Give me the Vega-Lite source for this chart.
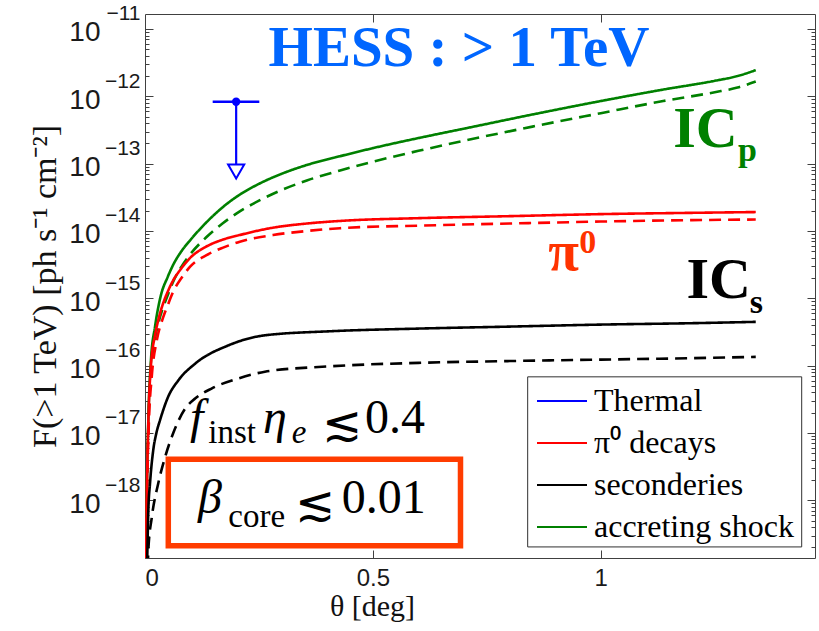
{
  "$schema": "https://vega.github.io/schema/vega-lite/v6.json",
  "width": 670,
  "height": 544,
  "autosize": {"type": "none"},
  "padding": {"left": 145, "top": 14, "right": 4, "bottom": 73},
  "background": "white",
  "config": {
    "view": {"stroke": "#404040", "strokeWidth": 1},
    "axis": {"domain": false, "grid": false}
  },
  "datasets": {
    "curves": [
      {"c": "accreting shock", "d": "solid", "t": 0.0022, "f": 1e-19},
      {"c": "accreting shock", "d": "solid", "t": 0.004, "f": 1.26e-18},
      {"c": "accreting shock", "d": "solid", "t": 0.0073, "f": 1.58e-17},
      {"c": "accreting shock", "d": "solid", "t": 0.013, "f": 1.2e-16},
      {"c": "accreting shock", "d": "solid", "t": 0.022, "f": 3.8e-16},
      {"c": "accreting shock", "d": "solid", "t": 0.034, "f": 1.05e-15},
      {"c": "accreting shock", "d": "solid", "t": 0.05, "f": 2.09e-15},
      {"c": "accreting shock", "d": "solid", "t": 0.062, "f": 3.16e-15},
      {"c": "accreting shock", "d": "solid", "t": 0.08, "f": 5.01e-15},
      {"c": "accreting shock", "d": "solid", "t": 0.1, "f": 7.41e-15},
      {"c": "accreting shock", "d": "solid", "t": 0.135, "f": 1.35e-14},
      {"c": "accreting shock", "d": "solid", "t": 0.17, "f": 2.24e-14},
      {"c": "accreting shock", "d": "solid", "t": 0.208, "f": 3.47e-14},
      {"c": "accreting shock", "d": "solid", "t": 0.25, "f": 5.01e-14},
      {"c": "accreting shock", "d": "solid", "t": 0.3, "f": 7.08e-14},
      {"c": "accreting shock", "d": "solid", "t": 0.355, "f": 9.55e-14},
      {"c": "accreting shock", "d": "solid", "t": 0.428, "f": 1.29e-13},
      {"c": "accreting shock", "d": "solid", "t": 0.5, "f": 1.7e-13},
      {"c": "accreting shock", "d": "solid", "t": 0.6, "f": 2.4e-13},
      {"c": "accreting shock", "d": "solid", "t": 0.7, "f": 3.31e-13},
      {"c": "accreting shock", "d": "solid", "t": 0.85, "f": 5.37e-13},
      {"c": "accreting shock", "d": "solid", "t": 1.0, "f": 8.51e-13},
      {"c": "accreting shock", "d": "solid", "t": 1.137, "f": 1.26e-12},
      {"c": "accreting shock", "d": "solid", "t": 1.25, "f": 1.7e-12},
      {"c": "accreting shock", "d": "solid", "t": 1.3, "f": 2.0e-12},
      {"c": "accreting shock", "d": "solid", "t": 1.34, "f": 2.45e-12},
      {"c": "accreting shock", "d": "dashed", "t": 0.0026, "f": 1e-19},
      {"c": "accreting shock", "d": "dashed", "t": 0.004, "f": 1.0e-18},
      {"c": "accreting shock", "d": "dashed", "t": 0.0073, "f": 1.26e-17},
      {"c": "accreting shock", "d": "dashed", "t": 0.013, "f": 7.94e-17},
      {"c": "accreting shock", "d": "dashed", "t": 0.022, "f": 2.51e-16},
      {"c": "accreting shock", "d": "dashed", "t": 0.03, "f": 4.47e-16},
      {"c": "accreting shock", "d": "dashed", "t": 0.04, "f": 7.41e-16},
      {"c": "accreting shock", "d": "dashed", "t": 0.05, "f": 1.12e-15},
      {"c": "accreting shock", "d": "dashed", "t": 0.062, "f": 1.78e-15},
      {"c": "accreting shock", "d": "dashed", "t": 0.08, "f": 2.95e-15},
      {"c": "accreting shock", "d": "dashed", "t": 0.1, "f": 4.57e-15},
      {"c": "accreting shock", "d": "dashed", "t": 0.135, "f": 8.13e-15},
      {"c": "accreting shock", "d": "dashed", "t": 0.17, "f": 1.29e-14},
      {"c": "accreting shock", "d": "dashed", "t": 0.208, "f": 1.95e-14},
      {"c": "accreting shock", "d": "dashed", "t": 0.25, "f": 2.82e-14},
      {"c": "accreting shock", "d": "dashed", "t": 0.3, "f": 4.07e-14},
      {"c": "accreting shock", "d": "dashed", "t": 0.355, "f": 5.62e-14},
      {"c": "accreting shock", "d": "dashed", "t": 0.428, "f": 7.94e-14},
      {"c": "accreting shock", "d": "dashed", "t": 0.5, "f": 1.07e-13},
      {"c": "accreting shock", "d": "dashed", "t": 0.6, "f": 1.55e-13},
      {"c": "accreting shock", "d": "dashed", "t": 0.7, "f": 2.19e-13},
      {"c": "accreting shock", "d": "dashed", "t": 0.85, "f": 3.55e-13},
      {"c": "accreting shock", "d": "dashed", "t": 1.0, "f": 5.62e-13},
      {"c": "accreting shock", "d": "dashed", "t": 1.137, "f": 8.51e-13},
      {"c": "accreting shock", "d": "dashed", "t": 1.25, "f": 1.15e-12},
      {"c": "accreting shock", "d": "dashed", "t": 1.3, "f": 1.35e-12},
      {"c": "accreting shock", "d": "dashed", "t": 1.34, "f": 1.66e-12},
      {"c": "π⁰ decays", "d": "solid", "t": 0.0022, "f": 1e-19},
      {"c": "π⁰ decays", "d": "solid", "t": 0.004, "f": 1.12e-18},
      {"c": "π⁰ decays", "d": "solid", "t": 0.0073, "f": 1.41e-17},
      {"c": "π⁰ decays", "d": "solid", "t": 0.013, "f": 1.0e-16},
      {"c": "π⁰ decays", "d": "solid", "t": 0.022, "f": 2.82e-16},
      {"c": "π⁰ decays", "d": "solid", "t": 0.03, "f": 5.01e-16},
      {"c": "π⁰ decays", "d": "solid", "t": 0.04, "f": 8.51e-16},
      {"c": "π⁰ decays", "d": "solid", "t": 0.05, "f": 1.26e-15},
      {"c": "π⁰ decays", "d": "solid", "t": 0.062, "f": 1.86e-15},
      {"c": "π⁰ decays", "d": "solid", "t": 0.077, "f": 2.63e-15},
      {"c": "π⁰ decays", "d": "solid", "t": 0.099, "f": 3.98e-15},
      {"c": "π⁰ decays", "d": "solid", "t": 0.135, "f": 5.89e-15},
      {"c": "π⁰ decays", "d": "solid", "t": 0.17, "f": 7.41e-15},
      {"c": "π⁰ decays", "d": "solid", "t": 0.208, "f": 8.71e-15},
      {"c": "π⁰ decays", "d": "solid", "t": 0.281, "f": 1.12e-14},
      {"c": "π⁰ decays", "d": "solid", "t": 0.355, "f": 1.29e-14},
      {"c": "π⁰ decays", "d": "solid", "t": 0.428, "f": 1.41e-14},
      {"c": "π⁰ decays", "d": "solid", "t": 0.6, "f": 1.55e-14},
      {"c": "π⁰ decays", "d": "solid", "t": 0.8, "f": 1.66e-14},
      {"c": "π⁰ decays", "d": "solid", "t": 1.0, "f": 1.78e-14},
      {"c": "π⁰ decays", "d": "solid", "t": 1.2, "f": 1.86e-14},
      {"c": "π⁰ decays", "d": "solid", "t": 1.34, "f": 1.91e-14},
      {"c": "π⁰ decays", "d": "dashed", "t": 0.0026, "f": 1e-19},
      {"c": "π⁰ decays", "d": "dashed", "t": 0.004, "f": 7.94e-19},
      {"c": "π⁰ decays", "d": "dashed", "t": 0.008, "f": 1.12e-17},
      {"c": "π⁰ decays", "d": "dashed", "t": 0.015, "f": 7.08e-17},
      {"c": "π⁰ decays", "d": "dashed", "t": 0.026, "f": 2.4e-16},
      {"c": "π⁰ decays", "d": "dashed", "t": 0.04, "f": 5.25e-16},
      {"c": "π⁰ decays", "d": "dashed", "t": 0.05, "f": 7.94e-16},
      {"c": "π⁰ decays", "d": "dashed", "t": 0.062, "f": 1.26e-15},
      {"c": "π⁰ decays", "d": "dashed", "t": 0.08, "f": 2.0e-15},
      {"c": "π⁰ decays", "d": "dashed", "t": 0.099, "f": 2.95e-15},
      {"c": "π⁰ decays", "d": "dashed", "t": 0.135, "f": 4.37e-15},
      {"c": "π⁰ decays", "d": "dashed", "t": 0.17, "f": 5.62e-15},
      {"c": "π⁰ decays", "d": "dashed", "t": 0.208, "f": 6.92e-15},
      {"c": "π⁰ decays", "d": "dashed", "t": 0.281, "f": 8.71e-15},
      {"c": "π⁰ decays", "d": "dashed", "t": 0.355, "f": 1.0e-14},
      {"c": "π⁰ decays", "d": "dashed", "t": 0.428, "f": 1.1e-14},
      {"c": "π⁰ decays", "d": "dashed", "t": 0.6, "f": 1.2e-14},
      {"c": "π⁰ decays", "d": "dashed", "t": 0.8, "f": 1.29e-14},
      {"c": "π⁰ decays", "d": "dashed", "t": 1.0, "f": 1.38e-14},
      {"c": "π⁰ decays", "d": "dashed", "t": 1.2, "f": 1.45e-14},
      {"c": "π⁰ decays", "d": "dashed", "t": 1.34, "f": 1.48e-14},
      {"c": "seconderies", "d": "solid", "t": 0.0045, "f": 1e-19},
      {"c": "seconderies", "d": "solid", "t": 0.0073, "f": 7.08e-19},
      {"c": "seconderies", "d": "solid", "t": 0.011, "f": 1.78e-18},
      {"c": "seconderies", "d": "solid", "t": 0.018, "f": 5.5e-18},
      {"c": "seconderies", "d": "solid", "t": 0.025, "f": 1.0e-17},
      {"c": "seconderies", "d": "solid", "t": 0.033, "f": 1.55e-17},
      {"c": "seconderies", "d": "solid", "t": 0.051, "f": 3.47e-17},
      {"c": "seconderies", "d": "solid", "t": 0.073, "f": 6.03e-17},
      {"c": "seconderies", "d": "solid", "t": 0.11, "f": 1.07e-16},
      {"c": "seconderies", "d": "solid", "t": 0.183, "f": 2.0e-16},
      {"c": "seconderies", "d": "solid", "t": 0.263, "f": 2.82e-16},
      {"c": "seconderies", "d": "solid", "t": 0.406, "f": 3.24e-16},
      {"c": "seconderies", "d": "solid", "t": 0.6, "f": 3.55e-16},
      {"c": "seconderies", "d": "solid", "t": 0.8, "f": 3.8e-16},
      {"c": "seconderies", "d": "solid", "t": 1.0, "f": 4.07e-16},
      {"c": "seconderies", "d": "solid", "t": 1.2, "f": 4.27e-16},
      {"c": "seconderies", "d": "solid", "t": 1.34, "f": 4.47e-16},
      {"c": "seconderies", "d": "dashed", "t": 0.0062, "f": 1e-19},
      {"c": "seconderies", "d": "dashed", "t": 0.0073, "f": 1.82e-19},
      {"c": "seconderies", "d": "dashed", "t": 0.015, "f": 5.62e-19},
      {"c": "seconderies", "d": "dashed", "t": 0.029, "f": 1.78e-18},
      {"c": "seconderies", "d": "dashed", "t": 0.044, "f": 4.37e-18},
      {"c": "seconderies", "d": "dashed", "t": 0.062, "f": 1.0e-17},
      {"c": "seconderies", "d": "dashed", "t": 0.088, "f": 2.29e-17},
      {"c": "seconderies", "d": "dashed", "t": 0.11, "f": 3.24e-17},
      {"c": "seconderies", "d": "dashed", "t": 0.146, "f": 4.57e-17},
      {"c": "seconderies", "d": "dashed", "t": 0.205, "f": 6.46e-17},
      {"c": "seconderies", "d": "dashed", "t": 0.263, "f": 8.13e-17},
      {"c": "seconderies", "d": "dashed", "t": 0.406, "f": 9.77e-17},
      {"c": "seconderies", "d": "dashed", "t": 0.6, "f": 1.1e-16},
      {"c": "seconderies", "d": "dashed", "t": 0.8, "f": 1.17e-16},
      {"c": "seconderies", "d": "dashed", "t": 1.0, "f": 1.23e-16},
      {"c": "seconderies", "d": "dashed", "t": 1.2, "f": 1.29e-16},
      {"c": "seconderies", "d": "dashed", "t": 1.34, "f": 1.35e-16}
    ],
    "limitBar": [{"t": 0.1485, "t2": 0.2508, "f": 8.32e-13}],
    "limitArrow": [{"t": 0.2, "f": 8.32e-13, "f2": 9.5e-14}],
    "limitPoint": [{"t": 0.2, "f": 8.32e-13}],
    "limitHead": [{"t": 0.2, "f": 7.64e-14}],
    "box": [{"t": 0.0511, "t2": 0.6922, "f": 4.08e-18, "f2": 2.12e-19}],
    "legendBox": [{"t": 0.8396, "t2": 1.4408, "f": 6.82e-17, "f2": 2.03e-19}],
    "title": [{"t": 0.689, "f": 2.85e-12, "s": "HESS : > 1 TeV"}],
    "icpMain": [{"t": 1.159, "f": 1.78e-13, "s": "IC"}],
    "icpSub": [{"t": 1.301, "f": 1.09e-13, "s": "p"}],
    "piMain": [{"t": 0.885, "f": 2.62e-15, "s": "π"}],
    "piSup": [{"t": 0.953, "f": 4.65e-15, "s": "0"}],
    "icsMain": [{"t": 1.188, "f": 1.0e-15, "s": "IC"}],
    "icsSub": [{"t": 1.327, "f": 6.03e-16, "s": "s"}],
    "mathItalic": [
      {"t": 0.0987, "f": 9.84e-18, "s": "f"},
      {"t": 0.2589, "f": 9.84e-18, "s": "η"},
      {"t": 0.1163, "f": 6.37e-19, "s": "β"}
    ],
    "mathSub": [
      {"t": 0.1389, "f": 6.98e-18, "s": "inst"},
      {"t": 0.1828, "f": 4.03e-19, "s": "core"}
    ],
    "mathSubItalic": [{"t": 0.3218, "f": 6.98e-18, "s": "e"}],
    "mathPlain": [
      {"t": 0.3883, "f": 7.82e-18, "s": "≲"},
      {"t": 0.4827, "f": 9.84e-18, "s": "0.4"},
      {"t": 0.3291, "f": 5.06e-19, "s": "≲"},
      {"t": 0.4316, "f": 6.37e-19, "s": "0.01"}
    ]
  },
  "resolve": {"axis": {"x": "independent", "y": "independent"}},
  "layer": [
    {
      "data": {"name": "legendBox"},
      "mark": {"type": "rect", "fill": "white", "stroke": "#303030", "strokeWidth": 1},
      "encoding": {
        "x": {"field": "t", "type": "quantitative", "scale": {"domain": [0, 1.47], "nice": false, "zero": false}, "axis": null},
        "x2": {"field": "t2"},
        "y": {"field": "f", "type": "quantitative", "scale": {"type": "log", "domain": [1.39e-19, 1.67e-11], "nice": false}, "axis": null},
        "y2": {"field": "f2"}
      }
    },
    {
      "data": {"name": "curves"},
      "mark": {"type": "line", "strokeWidth": 2.6, "clip": true, "interpolate": "monotone"},
      "encoding": {
        "x": {
          "field": "t", "type": "quantitative",
          "scale": {"domain": [0, 1.47], "nice": false, "zero": false},
          "axis": {
            "orient": "bottom", "values": [0, 0.5, 1],
            "labelExpr": "datum.value + ''",
            "labelFont": "Liberation Sans", "labelFontSize": 24, "labelColor": "#1a1a1a",
            "labelPadding": 16, "labelOverlap": false,
            "tickSize": -8, "tickColor": "#404040", "tickWidth": 1,
            "title": "θ [deg]", "titleFont": "Liberation Serif", "titleFontSize": 30,
            "titleFontWeight": "normal", "titleColor": "#111111",
            "titleX": 227, "titleY": 57, "titleAlign": "center", "titleBaseline": "alphabetic"
          }
        },
        "y": {
          "field": "f", "type": "quantitative",
          "scale": {"type": "log", "domain": [1.39e-19, 1.67e-11], "nice": false},
          "axis": {
            "orient": "left",
            "values": [1e-11, 9e-12, 8e-12, 7e-12, 6e-12, 5e-12, 4e-12, 3e-12, 2e-12, 1e-12, 9e-13, 8e-13, 7e-13, 6e-13, 5e-13, 4e-13, 3e-13, 2e-13, 1e-13, 9e-14, 8e-14, 7e-14, 6e-14, 5e-14, 4e-14, 3e-14, 2e-14, 1e-14, 9e-15, 8e-15, 7e-15, 6e-15, 5e-15, 4e-15, 3e-15, 2e-15, 1e-15, 9e-16, 8e-16, 7e-16, 6e-16, 5e-16, 4e-16, 3e-16, 2e-16, 1e-16, 9e-17, 8e-17, 7e-17, 6e-17, 5e-17, 4e-17, 3e-17, 2e-17, 1e-17, 9e-18, 8e-18, 7e-18, 6e-18, 5e-18, 4e-18, 3e-18, 2e-18, 1e-18, 9e-19, 8e-19, 7e-19, 6e-19, 5e-19, 4e-19, 3e-19, 2e-19],
            "labels": false,
            "tickSize": {"condition": {"test": "abs(log(datum.value)/LN10 - round(log(datum.value)/LN10)) < 0.01", "value": -8}, "value": -4},
            "tickColor": "#404040", "tickWidth": 1,
            "title": "F(>1 TeV) [ph s⁻¹ cm⁻²]", "titleFont": "Liberation Serif", "titleFontSize": 34,
            "titleFontWeight": "normal", "titleColor": "#111111",
            "titleX": -90, "titleY": 272, "titleAngle": -90, "titleAlign": "center", "titleBaseline": "alphabetic"
          }
        },
        "color": {
          "field": "c", "type": "nominal",
          "scale": {"domain": ["Thermal", "π⁰ decays", "seconderies", "accreting shock"], "range": ["#0000ff", "#ff0000", "#000000", "#008000"]},
          "legend": {
            "title": null, "orient": "none", "legendX": 391, "legendY": 361, "direction": "vertical",
            "symbolType": "stroke", "symbolSize": 2500, "symbolStrokeWidth": 2,
            "labelFont": "Liberation Serif", "labelFontSize": 32, "labelColor": "#000000",
            "labelOffset": 6, "labelLimit": 400, "padding": 0, "rowPadding": -2,
            "strokeColor": null, "fillColor": null, "cornerRadius": 0
          }
        },
        "strokeDash": {
          "field": "d", "type": "nominal",
          "scale": {"domain": ["solid", "dashed"], "range": [[1, 0], [12, 7]]},
          "legend": null
        },
        "detail": {"field": "d", "type": "nominal"}
      }
    },
    {
      "data": {"name": "limitBar"},
      "mark": {"type": "rule", "color": "#0000ff", "strokeWidth": 2.5},
      "encoding": {
        "x": {"field": "t", "type": "quantitative", "scale": {"domain": [0, 1.47], "nice": false, "zero": false}, "axis": null},
        "x2": {"field": "t2"},
        "y": {
          "field": "f", "type": "quantitative", "scale": {"type": "log", "domain": [1.39e-19, 1.67e-11], "nice": false},
          "axis": {
            "orient": "left", "values": [1e-11, 1e-12, 1e-13, 1e-14, 1e-15, 1e-16, 1e-17, 1e-18],
            "labelExpr": "'10'", "ticks": false, "tickSize": 0, "title": null, "domain": false,
            "labelFont": "Liberation Sans", "labelFontSize": 28, "labelColor": "#1a1a1a",
            "labelPadding": 45, "labelBaseline": "middle", "labelOffset": 4, "labelOverlap": false
          }
        }
      }
    },
    {
      "data": {"name": "limitArrow"},
      "mark": {"type": "rule", "color": "#0000ff", "strokeWidth": 2.2},
      "encoding": {
        "x": {"field": "t", "type": "quantitative", "scale": {"domain": [0, 1.47], "nice": false, "zero": false}, "axis": null},
        "y": {
          "field": "f", "type": "quantitative", "scale": {"type": "log", "domain": [1.39e-19, 1.67e-11], "nice": false},
          "axis": {
            "orient": "left", "values": [1e-11, 1e-12, 1e-13, 1e-14, 1e-15, 1e-16, 1e-17, 1e-18],
            "labelExpr": "'−' + (-round(log(datum.value)/LN10))", "ticks": false, "tickSize": 0, "title": null, "domain": false,
            "labelFont": "Liberation Sans", "labelFontSize": 21, "labelColor": "#1a1a1a",
            "labelPadding": 5, "labelBaseline": "middle", "labelOffset": -15, "labelOverlap": false
          }
        },
        "y2": {"field": "f2"}
      }
    },
    {
      "data": {"name": "limitPoint"},
      "mark": {"type": "point", "shape": "circle", "filled": true, "color": "#0000ff", "size": 70, "opacity": 1},
      "encoding": {
        "x": {
          "field": "t", "type": "quantitative", "scale": {"domain": [0, 1.47], "nice": false, "zero": false},
          "axis": {"orient": "top", "values": [0.5, 1], "labels": false, "title": null, "domain": false, "tickSize": -8, "tickColor": "#404040", "tickWidth": 1}
        },
        "y": {
          "field": "f", "type": "quantitative", "scale": {"type": "log", "domain": [1.39e-19, 1.67e-11], "nice": false},
          "axis": {
            "orient": "right", "labels": false, "title": null, "domain": false,
            "values": [1e-11, 9e-12, 8e-12, 7e-12, 6e-12, 5e-12, 4e-12, 3e-12, 2e-12, 1e-12, 9e-13, 8e-13, 7e-13, 6e-13, 5e-13, 4e-13, 3e-13, 2e-13, 1e-13, 9e-14, 8e-14, 7e-14, 6e-14, 5e-14, 4e-14, 3e-14, 2e-14, 1e-14, 9e-15, 8e-15, 7e-15, 6e-15, 5e-15, 4e-15, 3e-15, 2e-15, 1e-15, 9e-16, 8e-16, 7e-16, 6e-16, 5e-16, 4e-16, 3e-16, 2e-16, 1e-16, 9e-17, 8e-17, 7e-17, 6e-17, 5e-17, 4e-17, 3e-17, 2e-17, 1e-17, 9e-18, 8e-18, 7e-18, 6e-18, 5e-18, 4e-18, 3e-18, 2e-18, 1e-18, 9e-19, 8e-19, 7e-19, 6e-19, 5e-19, 4e-19, 3e-19, 2e-19],
            "tickSize": {"condition": {"test": "abs(log(datum.value)/LN10 - round(log(datum.value)/LN10)) < 0.01", "value": -8}, "value": -4},
            "tickColor": "#404040", "tickWidth": 1
          }
        }
      }
    },
    {
      "data": {"name": "limitHead"},
      "mark": {"type": "point", "shape": "triangle-down", "filled": true, "fill": "white", "stroke": "#0000ff", "strokeWidth": 2, "size": 260, "opacity": 1},
      "encoding": {
        "x": {"field": "t", "type": "quantitative", "scale": {"domain": [0, 1.47], "nice": false, "zero": false}, "axis": null},
        "y": {"field": "f", "type": "quantitative", "scale": {"type": "log", "domain": [1.39e-19, 1.67e-11], "nice": false}, "axis": null}
      }
    },
    {
      "data": {"name": "box"},
      "mark": {"type": "rect", "fill": null, "fillOpacity": 0, "stroke": "#ff3c00", "strokeWidth": 5.5},
      "encoding": {
        "x": {"field": "t", "type": "quantitative", "scale": {"domain": [0, 1.47], "nice": false, "zero": false}, "axis": null},
        "x2": {"field": "t2"},
        "y": {"field": "f", "type": "quantitative", "scale": {"type": "log", "domain": [1.39e-19, 1.67e-11], "nice": false}, "axis": null},
        "y2": {"field": "f2"}
      }
    },
    {
      "data": {"name": "title"},
      "mark": {"type": "text", "font": "Liberation Serif", "fontWeight": "bold", "fontSize": 57, "color": "#0066ff", "align": "center", "baseline": "alphabetic"},
      "encoding": {
        "x": {"field": "t", "type": "quantitative", "scale": {"domain": [0, 1.47], "nice": false, "zero": false}, "axis": null},
        "y": {"field": "f", "type": "quantitative", "scale": {"type": "log", "domain": [1.39e-19, 1.67e-11], "nice": false}, "axis": null},
        "text": {"field": "s"}
      }
    },
    {
      "data": {"name": "icpMain"},
      "mark": {"type": "text", "font": "Liberation Serif", "fontWeight": "bold", "fontSize": 58, "color": "#008000", "align": "left", "baseline": "alphabetic"},
      "encoding": {
        "x": {"field": "t", "type": "quantitative", "scale": {"domain": [0, 1.47], "nice": false, "zero": false}, "axis": null},
        "y": {"field": "f", "type": "quantitative", "scale": {"type": "log", "domain": [1.39e-19, 1.67e-11], "nice": false}, "axis": null},
        "text": {"field": "s"}
      }
    },
    {
      "data": {"name": "icpSub"},
      "mark": {"type": "text", "font": "Liberation Serif", "fontWeight": "bold", "fontSize": 34, "color": "#008000", "align": "left", "baseline": "alphabetic"},
      "encoding": {
        "x": {"field": "t", "type": "quantitative", "scale": {"domain": [0, 1.47], "nice": false, "zero": false}, "axis": null},
        "y": {"field": "f", "type": "quantitative", "scale": {"type": "log", "domain": [1.39e-19, 1.67e-11], "nice": false}, "axis": null},
        "text": {"field": "s"}
      }
    },
    {
      "data": {"name": "piMain"},
      "mark": {"type": "text", "font": "Liberation Serif", "fontWeight": "bold", "fontSize": 56, "color": "#ff3300", "align": "left", "baseline": "alphabetic"},
      "encoding": {
        "x": {"field": "t", "type": "quantitative", "scale": {"domain": [0, 1.47], "nice": false, "zero": false}, "axis": null},
        "y": {"field": "f", "type": "quantitative", "scale": {"type": "log", "domain": [1.39e-19, 1.67e-11], "nice": false}, "axis": null},
        "text": {"field": "s"}
      }
    },
    {
      "data": {"name": "piSup"},
      "mark": {"type": "text", "font": "Liberation Serif", "fontWeight": "bold", "fontSize": 34, "color": "#ff3300", "align": "left", "baseline": "alphabetic"},
      "encoding": {
        "x": {"field": "t", "type": "quantitative", "scale": {"domain": [0, 1.47], "nice": false, "zero": false}, "axis": null},
        "y": {"field": "f", "type": "quantitative", "scale": {"type": "log", "domain": [1.39e-19, 1.67e-11], "nice": false}, "axis": null},
        "text": {"field": "s"}
      }
    },
    {
      "data": {"name": "icsMain"},
      "mark": {"type": "text", "font": "Liberation Serif", "fontWeight": "bold", "fontSize": 58, "color": "#000000", "align": "left", "baseline": "alphabetic"},
      "encoding": {
        "x": {"field": "t", "type": "quantitative", "scale": {"domain": [0, 1.47], "nice": false, "zero": false}, "axis": null},
        "y": {"field": "f", "type": "quantitative", "scale": {"type": "log", "domain": [1.39e-19, 1.67e-11], "nice": false}, "axis": null},
        "text": {"field": "s"}
      }
    },
    {
      "data": {"name": "icsSub"},
      "mark": {"type": "text", "font": "Liberation Serif", "fontWeight": "bold", "fontSize": 34, "color": "#000000", "align": "left", "baseline": "alphabetic"},
      "encoding": {
        "x": {"field": "t", "type": "quantitative", "scale": {"domain": [0, 1.47], "nice": false, "zero": false}, "axis": null},
        "y": {"field": "f", "type": "quantitative", "scale": {"type": "log", "domain": [1.39e-19, 1.67e-11], "nice": false}, "axis": null},
        "text": {"field": "s"}
      }
    },
    {
      "data": {"name": "mathItalic"},
      "mark": {"type": "text", "font": "Liberation Serif", "fontStyle": "italic", "fontSize": 48, "color": "#000000", "align": "left", "baseline": "alphabetic"},
      "encoding": {
        "x": {"field": "t", "type": "quantitative", "scale": {"domain": [0, 1.47], "nice": false, "zero": false}, "axis": null},
        "y": {"field": "f", "type": "quantitative", "scale": {"type": "log", "domain": [1.39e-19, 1.67e-11], "nice": false}, "axis": null},
        "text": {"field": "s"}
      }
    },
    {
      "data": {"name": "mathSub"},
      "mark": {"type": "text", "font": "Liberation Serif", "fontSize": 33, "color": "#000000", "align": "left", "baseline": "alphabetic"},
      "encoding": {
        "x": {"field": "t", "type": "quantitative", "scale": {"domain": [0, 1.47], "nice": false, "zero": false}, "axis": null},
        "y": {"field": "f", "type": "quantitative", "scale": {"type": "log", "domain": [1.39e-19, 1.67e-11], "nice": false}, "axis": null},
        "text": {"field": "s"}
      }
    },
    {
      "data": {"name": "mathSubItalic"},
      "mark": {"type": "text", "font": "Liberation Serif", "fontStyle": "italic", "fontSize": 33, "color": "#000000", "align": "left", "baseline": "alphabetic"},
      "encoding": {
        "x": {"field": "t", "type": "quantitative", "scale": {"domain": [0, 1.47], "nice": false, "zero": false}, "axis": null},
        "y": {"field": "f", "type": "quantitative", "scale": {"type": "log", "domain": [1.39e-19, 1.67e-11], "nice": false}, "axis": null},
        "text": {"field": "s"}
      }
    },
    {
      "data": {"name": "mathPlain"},
      "mark": {"type": "text", "font": "Liberation Serif", "fontSize": 48, "color": "#000000", "align": "left", "baseline": "alphabetic"},
      "encoding": {
        "x": {"field": "t", "type": "quantitative", "scale": {"domain": [0, 1.47], "nice": false, "zero": false}, "axis": null},
        "y": {"field": "f", "type": "quantitative", "scale": {"type": "log", "domain": [1.39e-19, 1.67e-11], "nice": false}, "axis": null},
        "text": {"field": "s"}
      }
    }
  ]
}
